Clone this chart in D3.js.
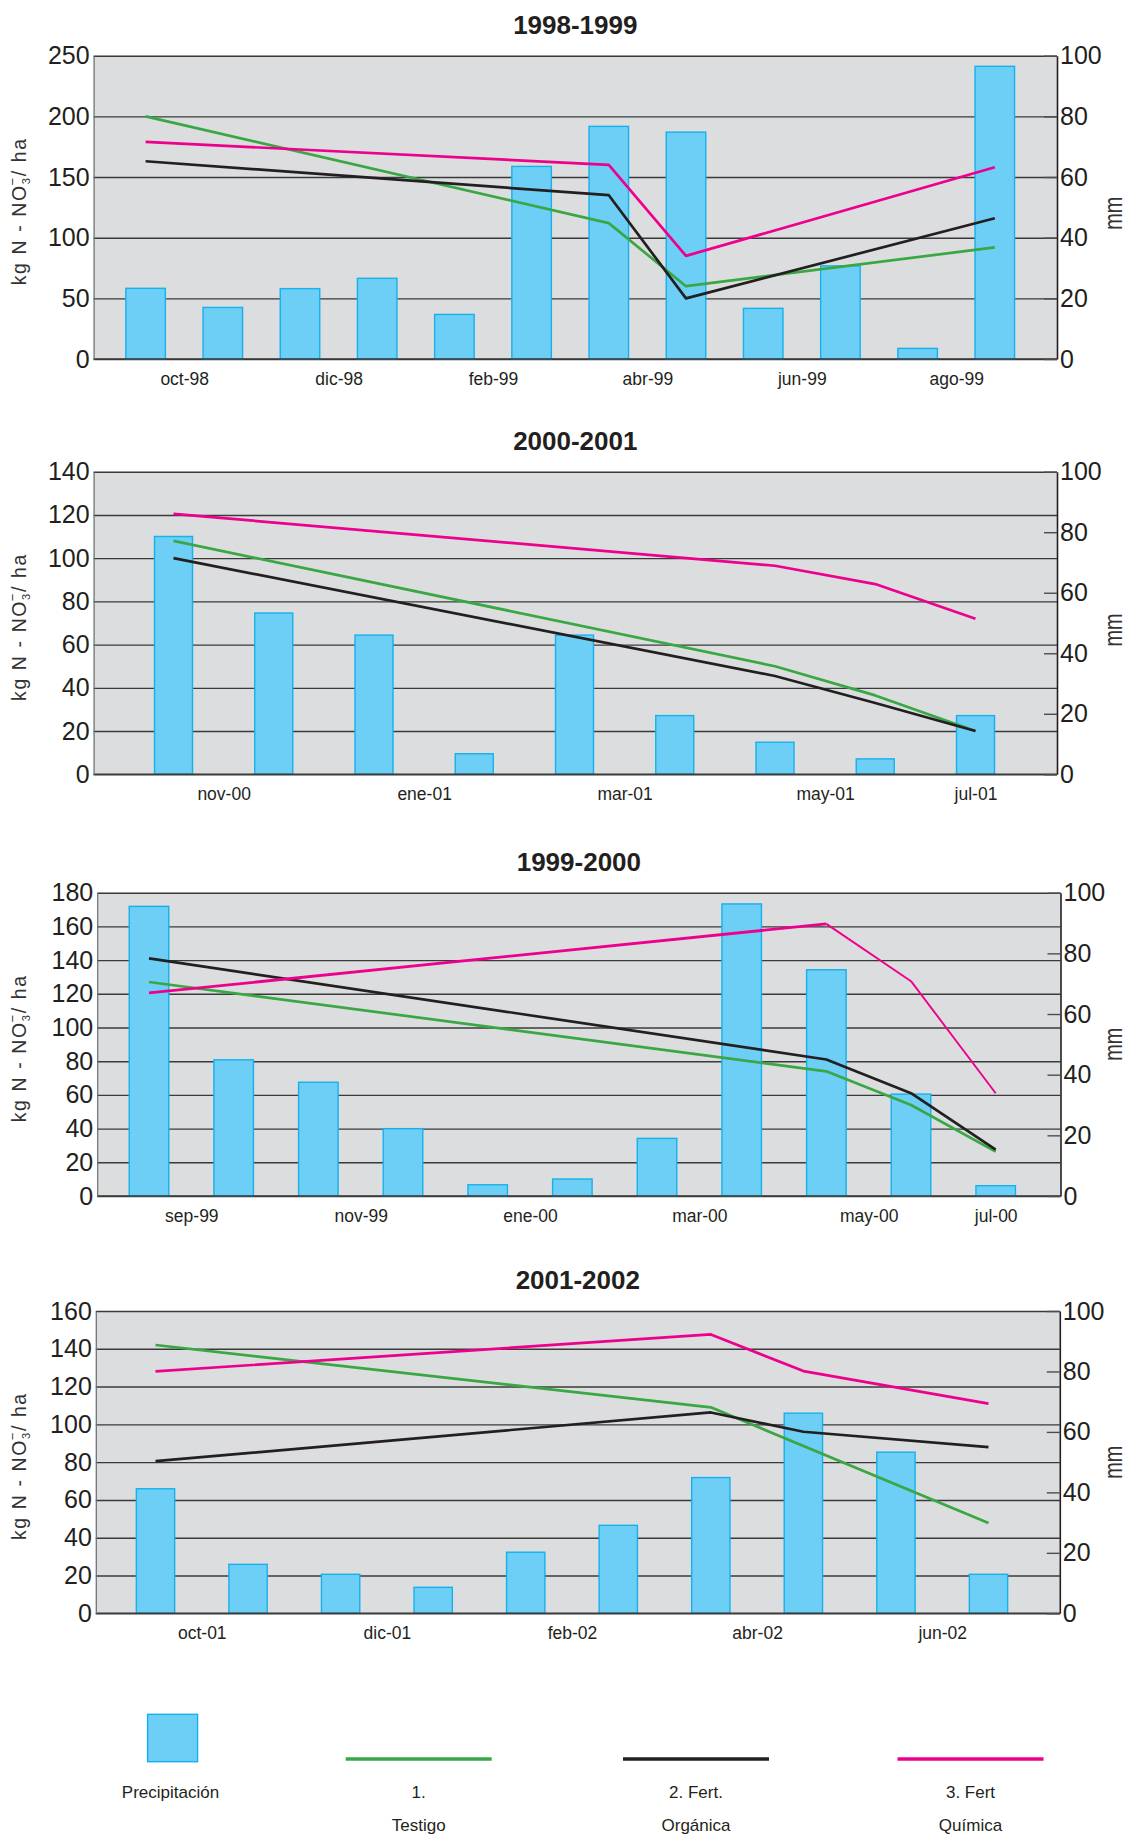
<!DOCTYPE html>
<html><head><meta charset="utf-8">
<script src="https://cdn.jsdelivr.net/npm/d3@7"></script>
<style>
body{margin:0;background:#fff}
svg{display:block}
text{font-family:"Liberation Sans",Arial,Helvetica,sans-serif}
</style>
</head><body>
<svg id="c" width="1129" height="1836"></svg>
<script>
// ---------------- DATA ----------------
const rightTicks = [0, 20, 40, 60, 80, 100];

// 1998-1999
const precip9899 = [23.3, 17.0, 23.2, 26.6, 14.7, 63.5, 76.7, 74.8, 16.7, 30.7, 3.5, 96.5];
const months9899 = ["oct-98", "dic-98", "feb-99", "abr-99", "jun-99", "ago-99"];
const monthPos9899 = [0.5, 2.5, 4.5, 6.5, 8.5, 10.5];
const leftTicks9899 = [0, 50, 100, 150, 200, 250];
const testigo9899 = [[0, 200], [6, 112], [7, 60], [11, 92]];
const organica9899 = [[0, 163], [6, 135], [7, 50], [11, 116]];
const quimica9899 = [[0, 179], [6, 160], [7, 85], [11, 158]];

// 2000-2001
const precip0001 = [78.6, 53.3, 46.0, 6.8, 46.0, 19.4, 10.6, 5.1, 19.4];
const months0001 = ["nov-00", "ene-01", "mar-01", "may-01", "jul-01"];
const monthPos0001 = [0.5, 2.5, 4.5, 6.5, 8];
const leftTicks0001 = [0, 20, 40, 60, 80, 100, 120, 140];
const testigo0001 = [[0, 108], [6, 50], [7, 36.5], [8, 20]];
const organica0001 = [[0, 100], [6, 45.5], [7, 33], [8, 20]];
const quimica0001 = [[0, 120.5], [6, 96.5], [7, 88], [8, 72]];

// 1999-2000
const precip9900 = [95.5, 44.9, 37.5, 22.2, 3.7, 5.6, 19.0, 96.3, 74.6, 33.6, 3.4];
const months9900 = ["sep-99", "nov-99", "ene-00", "mar-00", "may-00", "jul-00"];
const monthPos9900 = [0.5, 2.5, 4.5, 6.5, 8.5, 10];
const leftTicks9900 = [0, 20, 40, 60, 80, 100, 120, 140, 160, 180];
const testigo9900 = [[0, 127], [8, 74], [9, 54], [10, 26.3]];
const organica9900 = [[0, 141], [8, 81], [9, 61], [10, 27.5]];
const quimica9900 = [[0, 120.5], [8, 161.5], [9, 127.5], [10, 61]];

// 2001-2002
const precip0102 = [41.2, 16.2, 12.9, 8.6, 20.2, 29.1, 44.9, 66.2, 53.3, 12.9];
const months0102 = ["oct-01", "dic-01", "feb-02", "abr-02", "jun-02"];
const monthPos0102 = [0.5, 2.5, 4.5, 6.5, 8.5];
const leftTicks0102 = [0, 20, 40, 60, 80, 100, 120, 140, 160];
const testigo0102 = [[0, 142], [6, 109], [9, 47.8]];
const organica0102 = [[0, 80.5], [6, 106.3], [7, 96.1], [9, 88]];
const quimica0102 = [[0, 128], [6, 147.6], [7, 128.2], [9, 111]];

// legend
const legendLines1 = ["Precipitación", "1.", "2. Fert.", "3. Fert"];
const legendLines2 = ["", "Testigo", "Orgánica", "Química"];

// ---------------- STYLE / LAYOUT ----------------
const C = {
  bg: "#dcdddf", grid: "#3a3a3a", barFill: "#6dcff6", barStroke: "#16b1ec",
  testigo: "#3aa745", organica: "#231f20", quimica: "#ec008c", text: "#231f20"
};

const charts = [
  {title: "1998-1999", top: 55.7, bottom: 359, left: 93.6, right: 1057, x0: 145.6, x1: 994.8, bw: 39.5,
   precip: precip9899, months: months9899, pos: monthPos9899, ticks: leftTicks9899,
   t: testigo9899, o: organica9899, q: quimica9899, mmDy: 6},
  {title: "2000-2001", top: 471.7, bottom: 774.3, left: 93.6, right: 1057, x0: 173.5, x1: 975.5, bw: 38,
   precip: precip0001, months: months0001, pos: monthPos0001, ticks: leftTicks0001,
   t: testigo0001, o: organica0001, q: quimica0001, mmDy: 7},
  {title: "1999-2000", top: 892.7, bottom: 1196, left: 97.2, right: 1060.5, x0: 149, x1: 995.7, bw: 39.5,
   precip: precip9900, months: months9900, pos: monthPos9900, ticks: leftTicks9900,
   t: testigo9900, o: organica9900, q: quimica9900, thinQFrom: 8, mmDy: 0},
  {title: "2001-2002", top: 1311, bottom: 1613.3, left: 95.8, right: 1059.8, x0: 155.5, x1: 988.5, bw: 38.3,
   precip: precip0102, months: months0102, pos: monthPos0102, ticks: leftTicks0102,
   t: testigo0102, o: organica0102, q: quimica0102, mmDy: 0}
];

const svg = d3.select("#c");

charts.forEach(ch => {
  const g = svg.append("g");
  const L = ch.left, R = ch.right, T = ch.top, B = ch.bottom;
  const n = ch.precip.length;
  const x = d3.scaleLinear().domain([0, n - 1]).range([ch.x0, ch.x1]);
  const yL = d3.scaleLinear().domain([0, d3.max(ch.ticks)]).range([B, T]);
  const yR = d3.scaleLinear().domain([0, 100]).range([B, T]);

  // background
  g.append("rect").attr("x", L).attr("y", T).attr("width", R - L).attr("height", B - T).attr("fill", C.bg);

  // gridlines
  const grid = g.append("g").attr("transform", `translate(${L},0)`)
    .call(d3.axisLeft(yL).tickValues(ch.ticks).tickSize(-(R - L)).tickFormat(""));
  grid.select(".domain").remove();
  grid.selectAll(".tick line").attr("stroke", C.grid).attr("stroke-width", 1.4);

  // bars (precipitation, right axis mm)
  g.append("g").selectAll("rect").data(ch.precip).join("rect")
    .attr("x", (d, i) => x(i) - ch.bw / 2)
    .attr("y", d => yR(d))
    .attr("width", ch.bw)
    .attr("height", d => yR(0) - yR(d))
    .attr("fill", C.barFill)
    .attr("stroke", C.barStroke)
    .attr("stroke-width", 1.4);

  // bottom baseline redraw
  g.append("line").attr("x1", L).attr("x2", R).attr("y1", B).attr("y2", B)
    .attr("stroke", C.grid).attr("stroke-width", 1.4);

  // lines
  const line = d3.line().x(d => x(d[0])).y(d => yL(d[1]));
  [["t", C.testigo], ["o", C.organica], ["q", C.quimica]].forEach(([k, col]) => {
    const pts = ch[k];
    if (k === "q" && ch.thinQFrom !== undefined) {
      const a = pts.filter(p => p[0] <= ch.thinQFrom), b = pts.filter(p => p[0] >= ch.thinQFrom);
      g.append("path").attr("d", line(a)).attr("fill", "none").attr("stroke", col).attr("stroke-width", 2.8).attr("stroke-linejoin", "round");
      g.append("path").attr("d", line(b)).attr("fill", "none").attr("stroke", col).attr("stroke-width", 1.9).attr("stroke-linejoin", "round");
    } else {
      g.append("path").attr("d", line(pts)).attr("fill", "none").attr("stroke", col)
        .attr("stroke-width", 2.7).attr("stroke-linejoin", "round");
    }
  });

  // left axis
  const ax = g.append("g").attr("transform", `translate(${L},0)`)
    .call(d3.axisLeft(yL).tickValues(ch.ticks).tickSize(0).tickPadding(4).tickSizeOuter(0));
  ax.select(".domain").attr("stroke", "#6d6e70").attr("stroke-width", 1.2);
  ax.selectAll("text").attr("font-size", 25).attr("fill", C.text).attr("font-family", '"Liberation Sans",Arial,sans-serif');

  // right axis
  const ar = g.append("g").attr("transform", `translate(${R},0)`)
    .call(d3.axisRight(yR).tickValues(rightTicks).tickSizeInner(-13).tickSizeOuter(0).tickPadding(3));
  ar.select(".domain").attr("stroke", "#231f20").attr("stroke-width", 1.6);
  ar.selectAll(".tick line").attr("stroke", "#4d4d4f").attr("stroke-width", 1.4);
  ar.selectAll("text").attr("font-size", 25).attr("fill", C.text).attr("font-family", '"Liberation Sans",Arial,sans-serif');

  // bottom axis labels
  const ab = g.append("g").attr("transform", `translate(0,${B})`)
    .call(d3.axisBottom(x).tickValues(ch.pos).tickFormat((d, i) => ch.months[i]).tickSize(0).tickPadding(13.5));
  ab.select(".domain").remove();
  ab.selectAll("text").attr("font-size", 17.5).attr("fill", C.text).attr("font-family", '"Liberation Sans",Arial,sans-serif');

  // title
  g.append("text").attr("x", (L + R) / 2).attr("y", T - 31).attr("dy", "0.36em")
    .attr("text-anchor", "middle").attr("font-size", 26).attr("font-weight", "bold").attr("fill", C.text)
    .text(ch.title);

  // y-axis title
  const mid = (T + B) / 2;
  const yt = g.append("text").attr("transform", `translate(25.5,${mid + 4}) rotate(-90)`)
    .attr("text-anchor", "middle").attr("font-size", 19.5).attr("letter-spacing", 1.6).attr("fill", "#333");
  yt.append("tspan").text("kg N - NO");
  yt.append("tspan").attr("font-size", 11).attr("dy", 4).text("3");
  yt.append("tspan").attr("font-size", 13).attr("dx", -9).attr("dy", -13).text("−");
  yt.append("tspan").attr("dy", 9).text("/ ha");

  // mm title
  g.append("text").attr("transform", `translate(1122,${mid + ch.mmDy}) rotate(-90)`)
    .attr("text-anchor", "middle").attr("font-size", 25).attr("fill", "#333")
    .attr("textLength", 33).attr("lengthAdjust", "spacingAndGlyphs").text("mm");
});

// ---------------- LEGEND ----------------
const lg = svg.append("g");
const legendX = [172.5, 418.7, 696, 970.5];
const legendColors = [null, C.testigo, C.organica, C.quimica];
lg.append("rect").attr("x", 147.6).attr("y", 1714.3).attr("width", 50).attr("height", 47.4)
  .attr("fill", C.barFill).attr("stroke", C.barStroke).attr("stroke-width", 1.4);
legendColors.forEach((col, i) => {
  if (!col) return;
  lg.append("line").attr("x1", legendX[i] - 73).attr("x2", legendX[i] + 73)
    .attr("y1", 1759).attr("y2", 1759).attr("stroke", col).attr("stroke-width", 3.4);
});
legendLines1.forEach((s, i) => {
  lg.append("text").attr("x", legendX[i] - (i === 0 ? 2 : 0)).attr("y", 1797.7).attr("text-anchor", "middle")
    .attr("font-size", 17).attr("fill", C.text).text(s);
});
legendLines2.forEach((s, i) => {
  if (!s) return;
  lg.append("text").attr("x", legendX[i]).attr("y", 1831).attr("text-anchor", "middle")
    .attr("font-size", 17).attr("fill", C.text).text(s);
});
</script>
</body></html>
